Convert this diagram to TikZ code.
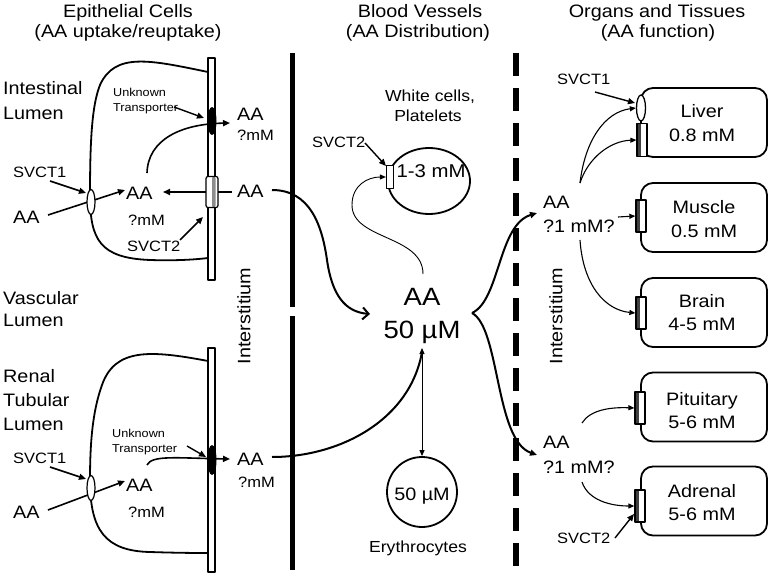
\documentclass[tikz,border=0pt]{standalone}
\usepackage{fontspec}
\setmainfont{Liberation Sans}[FakeStretch=1.1]
\usetikzlibrary{arrows.meta,shapes.geometric}
\begin{document}
\begin{tikzpicture}[x=1pt,y=-1pt, line join=round,
  every node/.style={inner sep=0pt},
  hd/.style={anchor=base, font=\fontsize{18}{20}\selectfont},
  lb/.style={anchor=base west, font=\fontsize{18}{20}\selectfont},
  lbc/.style={anchor=base, font=\fontsize{18}{20}\selectfont},
  mm/.style={anchor=base west, font=\fontsize{15}{17}\selectfont},
  sv/.style={anchor=base west, font=\fontsize{15}{17}\selectfont},
  unk/.style={anchor=base west, font=\fontsize{11.5}{13}\selectfont},
  big/.style={anchor=base, font=\fontsize{25}{28}\selectfont},
  cellline/.style={line width=1.8pt},
  arr/.style={line width=1.6pt, -{Triangle[length=7pt,width=6pt]}},
  thinarr/.style={line width=1.1pt, -{Triangle[length=6pt,width=5pt]}},
  membar/.style={draw, fill=white, line width=1.4pt, minimum width=7pt},
  oval/.style={draw, fill=white, ellipse, line width=1.2pt, minimum width=8pt, minimum height=25pt},
  blob/.style={fill=black, ellipse, minimum width=9pt, minimum height=28pt},
  organ/.style={draw, line width=1.8pt, rounded corners=12pt, minimum width=126pt, minimum height=69pt},
  orgT/.style={draw, fill=white, line width=1.3pt, minimum width=10pt, minimum height=32pt,
    path picture={\fill[black!75] (path picture bounding box.south west) rectangle ([xshift=3.5pt]path picture bounding box.north west);}},
]
\useasboundingbox (0,0) rectangle (771,575);

% headers
\node[hd] (h1a) at (128,17.5) {Epithelial Cells};
\node[hd] (h1b) at (128,38) {(AA uptake/reuptake)};
\node[hd] (h2a) at (420,17.5) {Blood Vessels};
\node[hd] (h2b) at (418,38) {(AA Distribution)};
\node[hd] (h3a) at (657,17.5) {Organs and Tissues};
\node[hd] (h3b) at (658,38) {(AA function)};

% left labels
\node[lb] (int1) at (3,95) {Intestinal};
\node[lb] (int2) at (3,120) {Lumen};
\node[lb] (vas1) at (3,304) {Vascular};
\node[lb] (vas2) at (3,326) {Lumen};
\node[lb] (ren1) at (3,382) {Renal};
\node[lb] (ren2) at (3,406) {Tubular};
\node[lb] (ren3) at (3,430) {Lumen};

% ---------- upper epithelial cell ----------
\draw[cellline] (208,72) .. controls (150,60) and (115,52) .. (100,85) .. controls (92,105) and (90,140) .. (90,195) .. controls (90,240) and (100,258) .. (150,260) .. controls (180,261) and (200,259) .. (208,258);
\node[membar, minimum height=222pt] (mem1) at (211.5,169) {};
\node[sv] (sv1a) at (13,177) {SVCT1};
\node[lb] (aa1) at (13,223) {AA};
\node[lb] (aai1) at (126,199) {AA};
\node[mm] (mmi1) at (128,225) {?mM};
\node[sv] (sv2a) at (127,251) {SVCT2};
\coordinate (s1a) at (50,181); \coordinate (s1b) at (86,193);
\coordinate (a1s) at (48,215); \coordinate (a1e) at (125,190);
\draw[arr] (s1a) -- (s1b);
\draw[arr] (a1s) -- (a1e);
\node[oval] (ov1) at (91,202) {};
\coordinate (s2a) at (180,240); \coordinate (s2b) at (203,217);
\draw[arr] (s2a) -- (s2b);
\coordinate (rl1) at (232,192); \coordinate (rl2) at (163,192);
\draw[arr] (rl1) -- (rl2);
\node[draw, fill=white, rounded corners=2pt, line width=1.2pt, minimum width=12pt, minimum height=31pt,
  path picture={\fill[black!45] ([xshift=6pt]path picture bounding box.south west) rectangle ([xshift=9.5pt]path picture bounding box.north west);}] (t2a) at (212,192) {};
\node[blob] (ut1) at (212,121) {};
\coordinate (c1s) at (147,173); \coordinate (c1e) at (230,123);
\draw[arr] (c1s) .. controls (148,140) and (180,124) .. (c1e);
\node[unk] (unk1) at (113,97) {Unknown};
\node[unk] (tr1) at (113,112) {Transporter};
\coordinate (u1a) at (174,107); \coordinate (u1b) at (204,118);
\draw[arr, line width=1.4pt] (u1a) -- (u1b);
\node[lb] (aaR0) at (237,121) {AA};
\node[mm] (mmR0) at (237,141) {?mM};
\node[lb] (aaR1) at (237,197) {AA};

% ---------- lower epithelial cell ----------
\draw[cellline] (208,361) .. controls (150,350) and (115,348) .. (102,385) .. controls (93,410) and (90,440) .. (90,480) .. controls (90,530) and (105,551) .. (150,552) .. controls (180,553) and (200,553) .. (208,553);
\node[membar, minimum height=224pt] (mem2) at (211.5,460) {};
\node[sv] (sv1b) at (13,463) {SVCT1};
\node[lb] (aa2) at (13,518) {AA};
\node[lb] (aai2) at (126,491) {AA};
\node[mm] (mmi2) at (128,517) {?mM};
\coordinate (s3a) at (50,467); \coordinate (s3b) at (86,479);
\coordinate (a2s) at (48,510); \coordinate (a2e) at (125,481);
\draw[arr] (s3a) -- (s3b);
\draw[arr] (a2s) -- (a2e);
\node[oval] (ov2) at (91,488) {};
\node[blob, minimum height=30pt] (ut2) at (212,460) {};
\coordinate (c2s) at (147,465); \coordinate (c2e) at (230,459);
\draw[arr] (c2s) .. controls (152,455) and (175,458) .. (c2e);
\node[unk] (unk2) at (112,437) {Unknown};
\node[unk] (tr2) at (112,452) {Transporter};
\coordinate (u2a) at (187,446); \coordinate (u2b) at (206,457);
\draw[arr, line width=1.4pt] (u2a) -- (u2b);
\node[lb] (aaR2) at (237,465) {AA};
\node[mm] (mmR2) at (238,487) {?mM};

% interstitium separators
\draw[line width=5pt] (292,53) -- (292,307);
\draw[line width=5pt] (292,316) -- (292,570);
\node[rotate=90, font=\fontsize{18}{20}\selectfont] (intL) at (244,316) {Interstitium};
\draw[line width=6pt, dash pattern=on 23pt off 12pt] (516,53) -- (516,577);
\node[rotate=90, font=\fontsize{18}{20}\selectfont] (intR) at (556,316) {Interstitium};

% ---------- blood vessels ----------
\node[anchor=base, font=\fontsize{16}{18}\selectfont] (wc1) at (430,102) {White cells,};
\node[anchor=base, font=\fontsize{16}{18}\selectfont] (wc2) at (428,122) {Platelets};
\node[draw, ellipse, line width=1.8pt, minimum width=82pt, minimum height=66pt] (wc) at (429,181) {};
\node[anchor=base, font=\fontsize{18.5}{20}\selectfont] (wcc) at (431,178) {1-3 mM};
\node[draw, fill=white, line width=1.2pt, minimum width=7pt, minimum height=23pt] (wct) at (390,177) {};
\node[sv] (sv2c) at (312,148) {SVCT2};
\coordinate (s4a) at (365,143); \coordinate (s4b) at (386,166);
\draw[arr, line width=1.4pt] (s4a) -- (s4b);

\node[big] (aabig) at (422,305) {AA};
\node[big] (conc) at (422,338) {50 µM};
\coordinate (lp) at (423,274);
\draw[thinarr, line width=0.9pt] (lp) .. controls (423,235) and (352,240) .. (352,205) .. controls (352,185) and (368,177) .. (wct.west);

\node[draw, circle, line width=1.8pt, minimum size=70pt] (ery) at (422,492) {};
\node[anchor=base, font=\fontsize{18}{20}\selectfont] (eryc) at (422,500) {50 µM};
\node[anchor=base, font=\fontsize{16}{18}\selectfont] (eryl) at (418,552) {Erythrocytes};
\coordinate (dtop) at (422,348);
\draw[line width=1pt, {Triangle[length=6pt,width=5pt]}-{Triangle[length=6pt,width=5pt]}] (dtop) -- (ery.north);

% AA from epithelia into blood
\coordinate (ba) at (272,190); \coordinate (bb) at (370,314);
\draw[line width=2pt, -{Straight Barb[length=6pt,width=12pt,line width=2pt]}] (ba) .. controls (310,190) and (322,225) .. (327,260) .. controls (332,295) and (345,312) .. (bb);
\coordinate (bc) at (272,457); \coordinate (bd) at (422,352);
\draw[line width=2pt] (bc) .. controls (340,457) and (410,420) .. (bd);

% blood to organs
\coordinate (jn) at (472,313);
\coordinate (o1) at (537,213); \coordinate (o2) at (537,455);
\draw[line width=2pt, -{Triangle[length=7pt,width=6pt]}] (jn) .. controls (500,300) and (498,225) .. (o1);
\draw[line width=2pt, -{Triangle[length=7pt,width=6pt]}] (jn) .. controls (500,328) and (495,440) .. (o2);

% ---------- organs ----------
\node[lb] (aaO1) at (543,208) {AA};
\node[lb] (mmO1) at (543,232) {?1 mM?};
\node[lb] (aaO2) at (543,448) {AA};
\node[lb] (mmO2) at (543,473) {?1 mM?};
\node[sv] (sv1c) at (557,85) {SVCT1};
\node[sv] (sv2d) at (557,543) {SVCT2};

\node[organ] (liver) at (704,122.5) {};
\node[organ] (muscle) at (704,217.5) {};
\node[organ] (brain) at (704,312.5) {};
\node[organ] (pit) at (704,407) {};
\node[organ] (adr) at (704,501) {};

\node[lbc] (lv1) at (702,118) {Liver};
\node[lbc] (lv2) at (702,142) {0.8 mM};
\node[lbc] (mu1) at (704,213) {Muscle};
\node[lbc] (mu2) at (704,237) {0.5 mM};
\node[lbc] (br1) at (702,307) {Brain};
\node[lbc] (br2) at (702,330) {4-5 mM};
\node[lbc] (pi1) at (702,405) {Pituitary};
\node[lbc] (pi2) at (702,428) {5-6 mM};
\node[lbc] (ad1) at (702,497) {Adrenal};
\node[lbc] (ad2) at (702,520) {5-6 mM};

\node[oval, line width=1.3pt, minimum width=9pt, minimum height=26pt] (lvO) at (641,108) {};
\node[orgT, minimum height=33pt] (lvT) at (642,140) {};
\node[orgT] (muT) at (641,216) {};
\node[orgT] (brT) at (641,313) {};
\node[orgT] (piT) at (640,408) {};
\node[orgT] (adT) at (640,506) {};

\coordinate (j1) at (580,183); \coordinate (j2) at (580,240);
\coordinate (j3) at (582,423); \coordinate (j4) at (582,482);
\coordinate (j5) at (618,217);
\draw[thinarr] (j1) .. controls (585,140) and (605,112) .. (lvO.west);
\draw[thinarr] (j1) .. controls (588,158) and (610,141) .. (lvT.west);
\draw[thinarr] (j5) -- (muT.west);
\draw[thinarr] (j2) .. controls (583,285) and (605,310) .. (brT.west);
\draw[thinarr] (j3) .. controls (590,410) and (610,407) .. (piT.west);
\draw[thinarr] (j4) .. controls (588,500) and (610,506) .. (adT.west);
\coordinate (s5a) at (595,92); \coordinate (s5b) at (635,103);
\draw[arr, line width=1.4pt] (s5a) -- (s5b);
\coordinate (s6a) at (615,538); \coordinate (s6b) at (634,514);
\draw[arr, line width=1.4pt] (s6a) -- (s6b);
\end{tikzpicture}
\end{document}
